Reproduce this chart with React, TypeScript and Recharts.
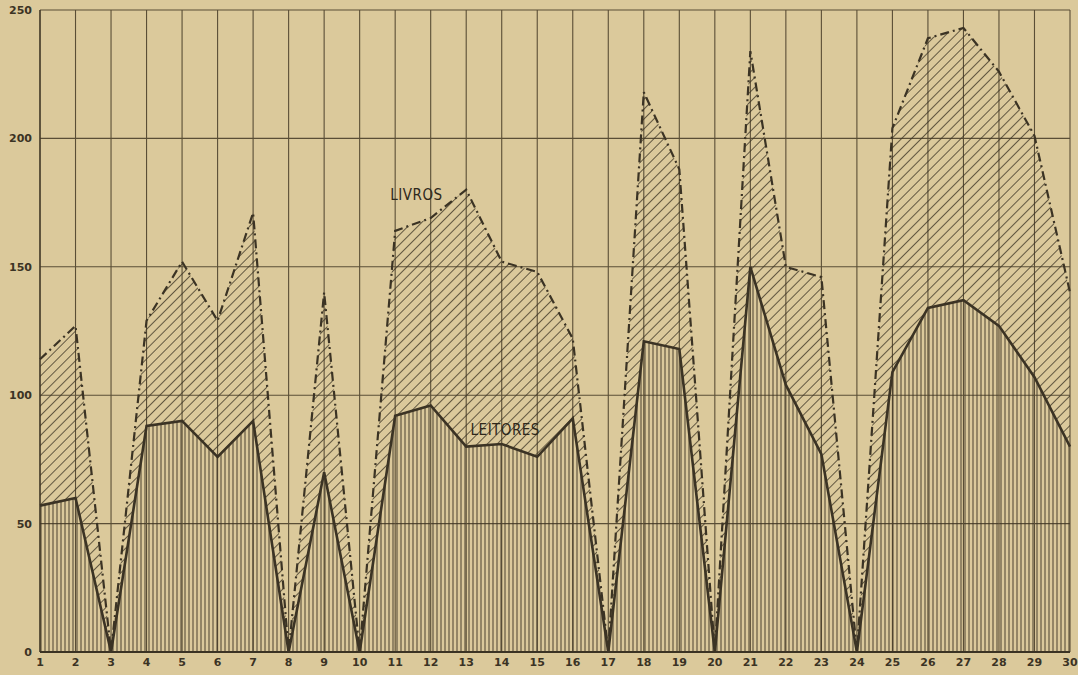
import React from 'react';
import { ComposedChart, Area, Line, XAxis, YAxis, CartesianGrid, ReferenceDot } from 'recharts';

const days = [1, 2, 3, 4, 5, 6, 7, 8, 9, 10, 11, 12, 13, 14, 15, 16, 17, 18, 19, 20, 21, 22, 23, 24, 25, 26, 27, 28, 29, 30];
const livros = [114, 127, 0, 129, 152, 129, 171, 0, 140, 0, 164, 169, 180, 152, 148, 122, 0, 218, 188, 0, 234, 150, 146, 0, 204, 239, 243, 226, 201, 140];
const leitores = [57, 60, 0, 88, 90, 76, 90, 0, 70, 0, 92, 96, 80, 81, 76, 91, 0, 121, 118, 0, 150, 104, 77, 0, 109, 134, 137, 127, 107, 80];
const yTicks = [0, 50, 100, 150, 200, 250];
const seriesLabels = [
  { text: 'LIVROS', day: 11.6, value: 178 },
  { text: 'LEITORES', day: 14.1, value: 86.5 },
];

const data = days.map((d, i) => ({ day: d, livros: livros[i], leitores: leitores[i], band: [leitores[i], livros[i]] }));

const INK = '#3b3324';
const PAPER = '#dbc99b';

export default function App() {
  return (
    <div style={{ position: 'absolute', left: 0, top: 0, width: 1078, height: 675, background: PAPER }}>
      <ComposedChart width={1078} height={675} data={data} margin={{ top: 10, right: 8, left: 0, bottom: 0 }}>
        <defs>
          <pattern id="diag" patternUnits="userSpaceOnUse" width="7" height="7" patternTransform="rotate(45)">
            <line x1="0.5" y1="0" x2="0.5" y2="7" stroke={INK} strokeWidth="0.9" strokeOpacity="0.85" />
          </pattern>
          <pattern id="vert" patternUnits="userSpaceOnUse" width="4" height="4">
            <line x1="1" y1="0" x2="1" y2="4" stroke={INK} strokeWidth="1" strokeOpacity="0.9" />
          </pattern>
        </defs>
        <CartesianGrid stroke="#5a4e36" strokeWidth={1.1} />
        <XAxis
          dataKey="day"
          type="number"
          domain={[1, 30]}
          ticks={days}
          interval={0}
          height={23}
          tickSize={0}
          tickMargin={6}
          axisLine={{ stroke: INK, strokeWidth: 2 }}
          tick={{ fill: INK, fontSize: 11, fontWeight: 'bold', fontFamily: 'DejaVu Sans' }}
        />
        <YAxis
          type="number"
          domain={[0, 250]}
          ticks={yTicks}
          interval={0}
          width={40}
          tickSize={0}
          tickMargin={8}
          axisLine={{ stroke: INK, strokeWidth: 1.2 }}
          tick={{ fill: INK, fontSize: 11, fontWeight: 'bold', fontFamily: 'DejaVu Sans' }}
        />
        <Area type="linear" dataKey="band" stroke="none" fill="url(#diag)" fillOpacity={1} isAnimationActive={false} />
        <Area type="linear" dataKey="leitores" stroke="none" fill="url(#vert)" fillOpacity={1} isAnimationActive={false} />
        <Line type="linear" dataKey="livros" stroke={INK} strokeWidth={2.2} strokeDasharray="9 4 2 4" dot={false} isAnimationActive={false} />
        <Line type="linear" dataKey="leitores" stroke={INK} strokeWidth={2.6} dot={false} isAnimationActive={false} />
        {seriesLabels.map((l) => (
          <ReferenceDot
            key={l.text}
            x={l.day}
            y={l.value}
            r={0}
            fill="none"
            stroke="none"
            label={{ value: l.text, position: 'center', fill: '#2e281b', fontSize: 15, fontWeight: 500, fontFamily: 'DejaVu Sans Condensed, DejaVu Sans', letterSpacing: 0.5 }}
          />
        ))}
      </ComposedChart>
    </div>
  );
}
